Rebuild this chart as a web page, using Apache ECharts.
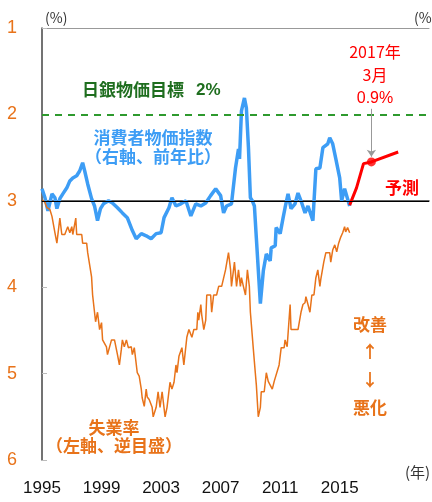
<!DOCTYPE html>
<html>
<head>
<meta charset="utf-8">
<script src="https://cdn.jsdelivr.net/npm/echarts@6/dist/echarts.min.js"></script>
<style>
  html, body { margin: 0; padding: 0; background: #fff; }
  #chart { width: 432px; height: 502px; }
</style>
</head>
<body>
<div id="chart"></div>
<script>
// 消費者物価指数（前年比, %）— 右軸
const cpiActual = [
  [1995.0, 0.28], [1995.2, 0.07], [1995.4, -0.23], [1995.67, 0.16], [1995.87, 0.07],
  [1996.0, -0.18], [1996.2, 0.05], [1996.4, 0.16], [1996.67, 0.30], [1996.87, 0.46],
  [1997.07, 0.53], [1997.33, 0.58], [1997.53, 0.69], [1997.73, 0.88], [1997.87, 0.69],
  [1998.07, 0.39], [1998.33, 0.05], [1998.53, -0.12], [1998.73, -0.46], [1998.93, -0.18],
  [1999.13, -0.07], [1999.47, 0.0], [1999.73, -0.05], [2000.07, -0.16], [2000.4, -0.28],
  [2000.73, -0.39], [2001.07, -0.69], [2001.33, -0.88], [2001.67, -0.76], [2002.0, -0.81],
  [2002.33, -0.88], [2002.67, -0.76], [2003.0, -0.74], [2003.2, -0.39], [2003.53, -0.16],
  [2003.73, 0.07], [2004.0, -0.12], [2004.33, -0.07], [2004.67, 0.0], [2005.0, -0.35],
  [2005.33, -0.07], [2005.67, -0.12], [2006.0, -0.05], [2006.33, 0.12], [2006.67, 0.28],
  [2007.0, 0.12], [2007.2, -0.28], [2007.4, -0.12], [2007.73, -0.07], [2008.0, 0.76],
  [2008.2, 1.2], [2008.27, 0.97], [2008.4, 2.08], [2008.6, 2.38], [2008.73, 2.15],
  [2008.87, 1.23], [2009.0, 0.07], [2009.13, 0.0], [2009.27, -0.12], [2009.4, -0.86],
  [2009.67, -2.38], [2009.87, -1.62], [2010.07, -1.23], [2010.33, -1.39], [2010.4, -1.09],
  [2010.67, -1.04], [2010.73, -0.62], [2011.0, -0.76], [2011.2, -0.39], [2011.33, -0.16],
  [2011.53, 0.16], [2011.73, -0.18], [2012.0, -0.07], [2012.2, 0.18], [2012.4, 0.0],
  [2012.67, -0.28], [2012.87, -0.12], [2013.2, -0.46], [2013.4, 0.74], [2013.67, 0.76],
  [2013.87, 1.23], [2014.2, 1.32], [2014.33, 1.46], [2014.53, 1.32], [2014.73, 0.99],
  [2015.0, 0.53], [2015.13, 0.0], [2015.33, 0.28], [2015.67, -0.12]
];
const cpiForecast = [[2015.67, -0.1], [2016.13, 0.3], [2016.6, 0.86], [2017.13, 0.9], [2018.93, 1.13]];
const cpiMarch2017 = [[2017.13, 0.9]];

// 完全失業率（%）— 左軸・逆目盛
const unemployment = [
  [1995.05, 2.99], [1995.2, 3.02], [1995.33, 3.08], [1995.53, 3.10], [1995.67, 3.18],
  [1995.8, 3.20], [1995.87, 3.37], [1996.0, 3.49], [1996.2, 3.20], [1996.33, 3.39],
  [1996.53, 3.39], [1996.73, 3.30], [1996.87, 3.37], [1997.0, 3.30], [1997.07, 3.39],
  [1997.27, 3.20], [1997.33, 3.39], [1997.67, 3.39], [1997.73, 3.49], [1998.0, 3.49],
  [1998.07, 3.60], [1998.2, 3.60], [1998.33, 3.88], [1998.4, 4.09], [1998.53, 4.11],
  [1998.6, 4.40], [1998.73, 4.29], [1998.87, 4.49], [1999.0, 4.41], [1999.07, 4.61],
  [1999.33, 4.69], [1999.4, 4.78], [1999.53, 4.78], [1999.67, 4.61], [1999.87, 4.61],
  [2000.07, 4.78], [2000.2, 4.90], [2000.33, 4.72], [2000.4, 4.61], [2000.53, 4.69],
  [2000.67, 4.61], [2000.8, 4.70], [2001.0, 4.69], [2001.07, 4.78], [2001.2, 4.70],
  [2001.4, 4.99], [2001.53, 5.03], [2001.67, 5.18], [2001.73, 5.28], [2001.87, 5.38],
  [2002.0, 5.18], [2002.07, 5.27], [2002.2, 5.30], [2002.4, 5.39], [2002.47, 5.50],
  [2002.67, 5.39], [2002.8, 5.21], [2002.93, 5.39], [2003.07, 5.21], [2003.27, 5.50],
  [2003.4, 5.39], [2003.6, 5.10], [2003.73, 5.18], [2003.87, 5.10], [2004.0, 4.90],
  [2004.07, 4.99], [2004.2, 4.80], [2004.33, 4.80], [2004.4, 4.70], [2004.53, 4.90],
  [2004.73, 4.58], [2004.87, 4.49], [2005.0, 4.49], [2005.07, 4.58], [2005.2, 4.49],
  [2005.4, 4.49], [2005.47, 4.29], [2005.53, 4.38], [2005.67, 4.20], [2005.73, 4.32],
  [2005.87, 4.49], [2006.0, 4.38], [2006.07, 4.09], [2006.33, 4.09], [2006.4, 4.29],
  [2006.53, 4.09], [2006.73, 4.09], [2006.87, 3.99], [2007.07, 3.99], [2007.2, 3.99],
  [2007.33, 3.80], [2007.4, 3.80], [2007.53, 3.60], [2007.67, 3.80], [2007.73, 3.99],
  [2007.93, 3.71], [2008.07, 3.99], [2008.2, 3.80], [2008.33, 3.99], [2008.4, 3.89],
  [2008.53, 3.99], [2008.67, 4.09], [2008.8, 3.80], [2008.93, 3.99], [2009.0, 4.29],
  [2009.07, 4.29], [2009.2, 4.72], [2009.33, 4.99], [2009.4, 5.13], [2009.53, 5.50],
  [2009.67, 5.39], [2009.73, 5.21], [2009.93, 5.21], [2010.07, 4.99], [2010.2, 5.09],
  [2010.33, 5.09], [2010.47, 5.18], [2010.6, 5.09], [2010.73, 5.09], [2010.93, 4.90],
  [2011.07, 4.70], [2011.27, 4.70], [2011.33, 4.61], [2011.47, 4.69], [2011.67, 4.20],
  [2011.73, 4.49], [2012.0, 4.49], [2012.2, 4.49], [2012.4, 4.29], [2012.53, 4.20],
  [2012.67, 4.18], [2012.73, 4.11], [2012.87, 4.20], [2013.0, 4.29], [2013.13, 4.09],
  [2013.27, 4.09], [2013.4, 3.89], [2013.53, 3.80], [2013.67, 3.99], [2013.73, 3.91],
  [2013.93, 3.71], [2014.07, 3.60], [2014.33, 3.60], [2014.4, 3.71], [2014.53, 3.57],
  [2014.67, 3.51], [2014.8, 3.59], [2014.93, 3.49], [2015.07, 3.42], [2015.2, 3.37],
  [2015.33, 3.30], [2015.4, 3.36], [2015.53, 3.31], [2015.67, 3.37]
];

const yearTicks = [1995, 1999, 2003, 2007, 2011, 2015];
const leftTicks = [1, 2, 3, 4, 5, 6];
const bojTarget = 2;

const ORANGE = '#e8731a';
const BLUE = '#3d9df5';
const RED = '#ff0000';
const GREEN = '#1f6e1f';
const JP = '"Noto Sans CJK JP", sans-serif';
const NUM = '"Liberation Sans", Arial, sans-serif';

const chart = echarts.init(document.getElementById('chart'));

function label(text, x, y, color, size, weight, family, align) {
    return {
        type: 'text', x, y, z: 10,
        style: { text, fill: color, fontSize: size, fontWeight: weight || 'normal', fontFamily: family || JP, align: align || 'center', verticalAlign: 'middle' }
    };
}

chart.setOption({
    backgroundColor: '#fff',
    animation: false,
    grid: { left: 42, right: 0, top: 28, bottom: 42 },
    xAxis: [
        {
            type: 'value', min: 1995, max: 2021, interval: 4,
            axisLine: { lineStyle: { color: '#333', width: 1.5 } },
            axisTick: { show: false },
            splitLine: { show: false },
            axisLabel: {
                margin: 20, color: '#111', fontSize: 17, fontFamily: NUM,
                formatter: v => yearTicks.includes(v) ? String(v) : ''
            }
        },
        {
            type: 'value', position: 'top', min: 1995, max: 2021,
            axisLine: { lineStyle: { color: '#999', width: 1 } },
            axisTick: { show: false }, axisLabel: { show: false }, splitLine: { show: false }
        }
    ],
    yAxis: [
        {
            type: 'value', inverse: true, min: leftTicks[0], max: leftTicks[leftTicks.length - 1], interval: 1,
            axisLine: { show: true, lineStyle: { color: '#444', width: 1.5 } },
            axisTick: { show: true, inside: true, length: 5, lineStyle: { color: '#bbb' } },
            splitLine: { show: false },
            axisLabel: { margin: 25, color: ORANGE, fontSize: 18, fontFamily: NUM }
        },
        {
            type: 'value', min: -6, max: 4, show: false
        }
    ],
    series: [
        {
            name: '失業率', type: 'line', yAxisIndex: 0, data: unemployment,
            symbol: 'none', lineStyle: { color: ORANGE, width: 1.5 }, z: 3
        },
        {
            name: '消費者物価指数', type: 'line', yAxisIndex: 1, data: cpiActual,
            symbol: 'none', lineStyle: { color: BLUE, width: 3.5 }, z: 2,
            markLine: {
                silent: true, symbol: 'none', label: { show: false },
                data: [
                    { yAxis: bojTarget, lineStyle: { color: '#2e9a2e', width: 2, type: [7, 6] } },
                    { yAxis: 0, lineStyle: { color: '#000', width: 1.2, type: 'solid' } }
                ]
            }
        },
        {
            name: '予測', type: 'line', yAxisIndex: 1, data: cpiForecast,
            symbol: 'none', lineStyle: { color: RED, width: 3 }, z: 4,
            markLine: {
                silent: true, symbol: ['none', 'arrow'], symbolSize: 7, label: { show: false },
                lineStyle: { color: '#999', width: 1, type: 'solid' },
                data: [[{ coord: [2017.13, 2.13] }, { coord: [2017.13, 1.02] }]]
            }
        },
        {
            name: '2017年3月', type: 'scatter', yAxisIndex: 1, data: cpiMarch2017,
            symbol: 'circle', symbolSize: 9, itemStyle: { color: RED }, z: 5
        }
    ],
    graphic: [
        label('(%)', 45, 18, '#333', 14, 'normal', JP, 'left'),
        label('(%)', 414, 18, '#333', 14, 'normal', JP, 'left'),
        label('(年)', 405, 472, '#333', 15, 'normal', JP, 'left'),
        label('日銀物価目標', 133, 90, GREEN, 17, 'bold'),
        label('2%', 196, 90, GREEN, 17, 'bold', NUM, 'left'),
        label('消費者物価指数', 153, 138, BLUE, 17, 'bold'),
        label('（右軸、前年比）', 153, 157, BLUE, 17, 'bold'),
        label('失業率', 114, 428, ORANGE, 17, 'bold'),
        label('（左軸、逆目盛）', 114, 446, ORANGE, 17, 'bold'),
        label('改善', 370, 325, ORANGE, 17, 'bold'),
        label('↑', 370, 352, ORANGE, 17, 'bold'),
        label('↓', 370, 380, ORANGE, 17, 'bold'),
        label('悪化', 370, 408, ORANGE, 17, 'bold'),
        label('予測', 402, 188, RED, 17, 'bold'),
        label('2017年', 375, 52, RED, 16, 'normal'),
        label('3月', 375, 75, RED, 16, 'normal'),
        label('0.9%', 375, 99, RED, 16, 'normal', NUM)
    ]
});
</script>
</body>
</html>
